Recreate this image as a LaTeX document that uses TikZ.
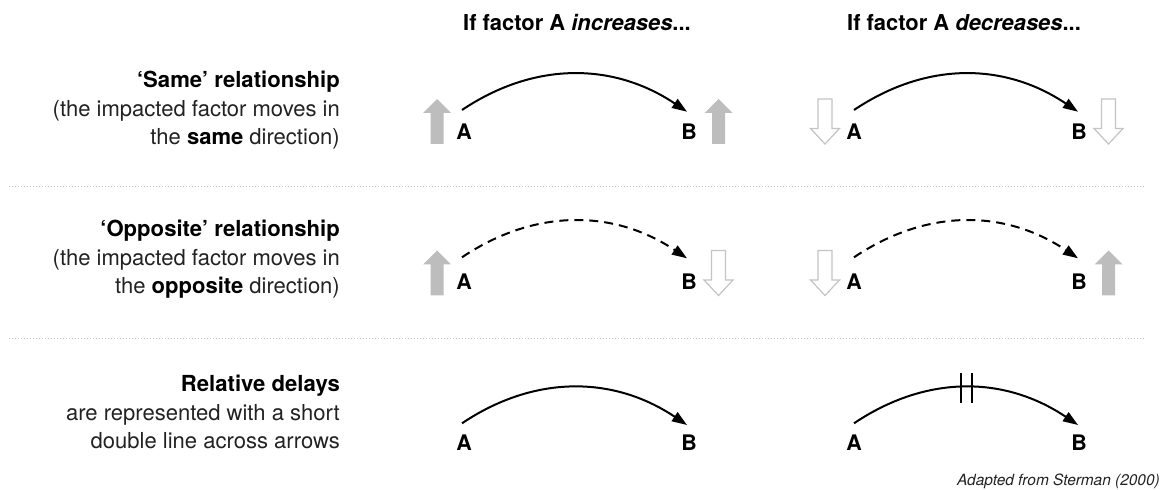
\documentclass[tikz,border=0pt]{standalone}
\usepackage{fontspec}
\setmainfont{TeX Gyre Heros}
\usetikzlibrary{arrows.meta}
\definecolor{txt}{HTML}{222222}
\definecolor{upfill}{HTML}{BDBDBD}
\definecolor{downline}{HTML}{C4C4C4}
\definecolor{sepcol}{HTML}{C8C8C8}
\begin{document}
\begin{tikzpicture}[x=1bp,y=-1bp,
 hdr/.style={font=\fontsize{22}{26}\selectfont\bfseries, text=black, inner sep=0, anchor=base west},
 lead/.style={font=\fontsize{22.2}{26}\selectfont\bfseries, text=black, inner sep=0, anchor=base east},
 body/.style={font=\fontsize{22.1}{26}\selectfont, text=txt, inner sep=0, anchor=base east},
 var/.style={font=\fontsize{21.5}{26}\selectfont\bfseries, text=black, inner sep=0, anchor=base},
 link/.style={line width=2bp, -{Triangle[length=15bp,width=10.5bp]}},
 neg/.style={link, dash pattern=on 9bp off 6bp},
 sepline/.style={draw=sepcol, line width=1bp, dash pattern=on 1.2bp off 1.8bp},
 delaymark/.style={line width=2bp},
 note/.style={font=\fontsize{15.5}{18}\selectfont\itshape, text=txt, inner sep=0, anchor=base east},
 upblk/.pic={\fill[upfill] (0,-22.5) -- (14,-8.5) -- (6.5,-8.5) -- (6.5,22.5) -- (-6.5,22.5) -- (-6.5,-8.5) -- (-14,-8.5) -- cycle;},
 downblk/.pic={\draw[downline, fill=white, line width=1.2bp, line join=miter] (0,22.5) -- (14.5,7) -- (7,7) -- (7,-22.5) -- (-7,-22.5) -- (-7,7) -- (-14.5,7) -- cycle;}
]
\useasboundingbox (0,0) rectangle (1169,490);

% headers
\node[hdr] (h1) at (463,31) {If factor A \textit{increases}...};
\node[hdr] (h2) at (847,31) {If factor A \textit{decreases}...};

% row texts
\node[lead] (r1a) at (340,88) {‘Same’ relationship};
\node[body] (r1b) at (340,116.5) {(the impacted factor moves in};
\node[body] (r1c) at (340,145) {the {\color{black}\bfseries same} direction)};

\node[lead] (r2a) at (340,237) {‘Opposite’ relationship};
\node[body] (r2b) at (340,265.5) {(the impacted factor moves in};
\node[body] (r2c) at (340,294) {the {\color{black}\bfseries opposite} direction)};

\node[lead] (r3a) at (340,391.5) {Relative delays};
\node[body] (r3b) at (340,420) {are represented with a short};
\node[body] (r3c) at (340,448.5) {double line across arrows};

% separators
\draw[sepline] (9,187) -- (1144,187);
\draw[sepline] (9,338.5) -- (1144,338.5);

% row 1
\node[var] (A1) at (464,140) {A};
\node[var] (B1) at (689,140) {B};
\node[var] (A2) at (854,140) {A};
\node[var] (B2) at (1079,140) {B};
\draw[link] ([shift={(-2,-30)}]A1.base) .. controls +(73,-49) and +(-73,-49) .. ([shift={(-2,-28.3)}]B1.base);
\draw[link] ([shift={(0,-30)}]A2.base) .. controls +(73,-49) and +(-73,-49) .. ([shift={(-1,-28.3)}]B2.base);
\pic at ([shift={(-27,-18.5)}]A1.base) {upblk};
\pic at ([shift={(29.5,-18.5)}]B1.base) {upblk};
\pic at ([shift={(-29,-18.5)}]A2.base) {downblk};
\pic at ([shift={(29.5,-18.5)}]B2.base) {downblk};

% row 2
\node[var] (A3) at (464,290) {A};
\node[var] (B3) at (689,290) {B};
\node[var] (A4) at (854,290) {A};
\node[var] (B4) at (1079,290) {B};
\draw[neg] ([shift={(-2,-32.7)}]A3.base) .. controls +(73,-49) and +(-73,-49) .. ([shift={(-2,-31.7)}]B3.base);
\draw[neg] ([shift={(0,-32.7)}]A4.base) .. controls +(73,-49) and +(-73,-49) .. ([shift={(-1,-31.7)}]B4.base);
\pic at ([shift={(-27,-17)}]A3.base) {upblk};
\pic at ([shift={(29.5,-17)}]B3.base) {downblk};
\pic at ([shift={(-29,-17)}]A4.base) {downblk};
\pic at ([shift={(29.5,-17)}]B4.base) {upblk};

% row 3
\node[var] (A5) at (464,450.7) {A};
\node[var] (B5) at (689,450.7) {B};
\node[var] (A6) at (854,450.7) {A};
\node[var] (B6) at (1079,450.7) {B};
\draw[link] ([shift={(-2,-27.4)}]A5.base) .. controls +(73,-49) and +(-73,-49) .. ([shift={(-2,-25.7)}]B5.base);
\draw[link] ([shift={(0,-27.4)}]A6.base) .. controls +(73,-49) and +(-73,-49) .. ([shift={(-1,-25.7)}]B6.base) coordinate[pos=0.5] (dm);
\draw[delaymark] ([shift={(-5.5,-14.5)}]dm) -- ([shift={(-5.5,15.5)}]dm);
\draw[delaymark] ([shift={(5.5,-14.5)}]dm) -- ([shift={(5.5,15.5)}]dm);

% source
\node[note] (src) at (1160,485) {Adapted from Sterman (2000)};
\end{tikzpicture}
\end{document}
